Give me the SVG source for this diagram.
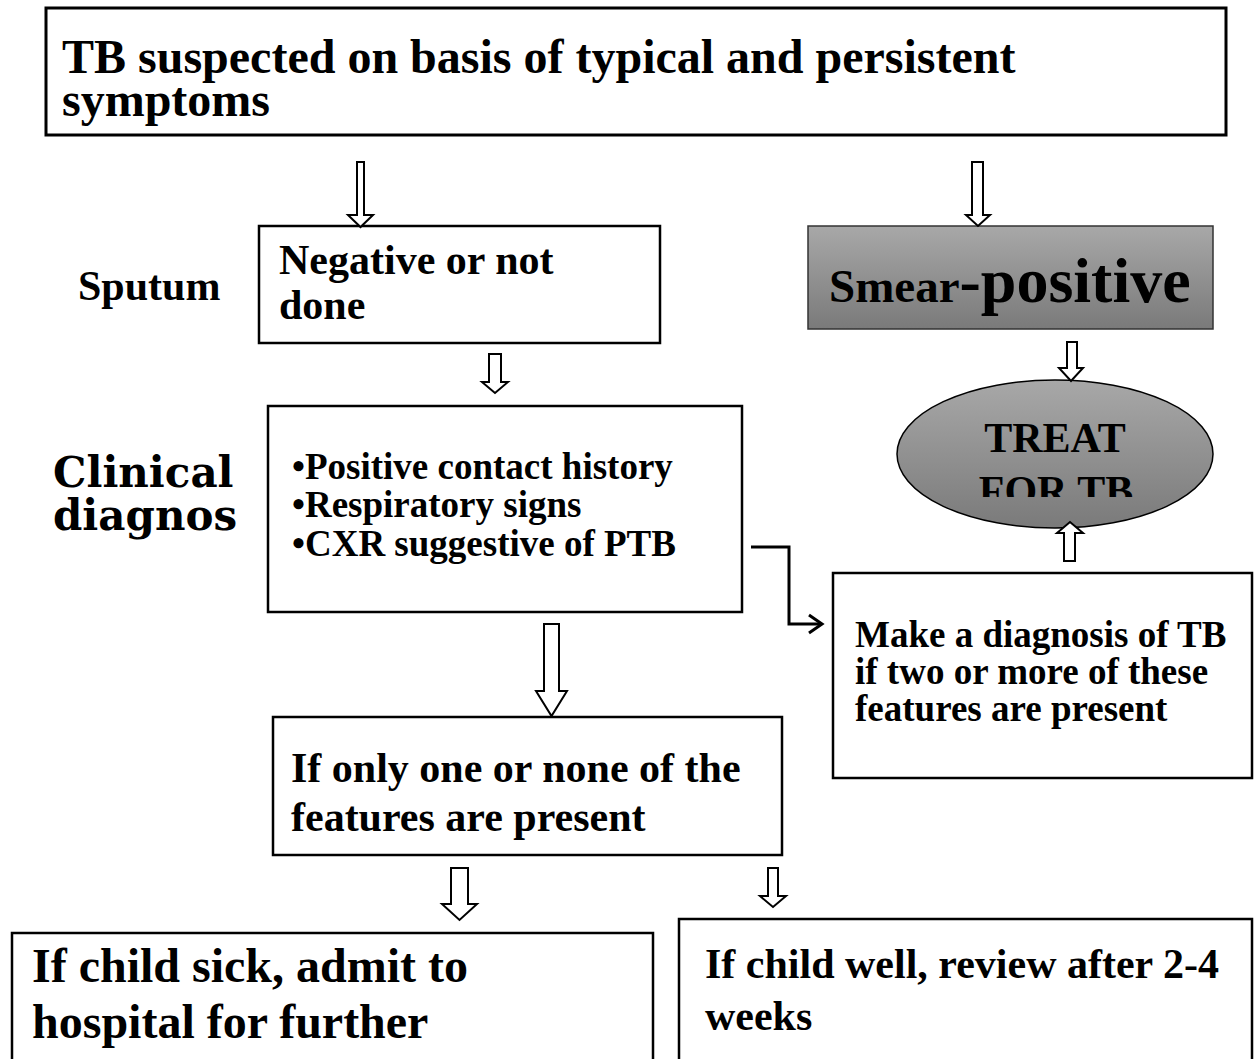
<svg xmlns="http://www.w3.org/2000/svg" width="1256" height="1059" viewBox="0 0 1256 1059">
<style>
.box{fill:#fff;stroke:#000;stroke-width:2.5}
.t{font-family:"Liberation Serif","Times New Roman",serif;font-weight:bold;fill:#000}
.blk{fill:#fff;stroke:#000;stroke-width:2;stroke-linejoin:miter}
.ln{fill:none;stroke:#000;stroke-width:3}
</style>
<defs>
<linearGradient id="g1" x1="0" y1="0" x2="0" y2="1">
<stop offset="0" stop-color="#a8a8a8"/>
<stop offset="1" stop-color="#7a7a7a"/>
</linearGradient>
<clipPath id="clipTreat"><rect x="890" y="380" width="330" height="117"/></clipPath>
</defs>

<g id="top">
<rect class="box" x="46" y="8" width="1180" height="127" style="stroke-width:3"/>
<text class="t" x="62" y="73" font-size="48">TB suspected on basis of typical and persistent</text>
<text class="t" x="62" y="116" font-size="48">symptoms</text>
</g>

<g id="sputum-label">
<text class="t" x="78" y="300" font-size="42">Sputum</text>
</g>

<g id="negative">
<rect class="box" x="259" y="226" width="401" height="117"/>
<text class="t" x="279" y="274" font-size="42">Negative or not</text>
<text class="t" x="279" y="319" font-size="42">done</text>
</g>

<g id="smear">
<rect x="808" y="226" width="405" height="103" fill="url(#g1)" stroke="#333" stroke-width="1.5"/>
<text class="t" x="829" y="302"><tspan font-size="47">Smear</tspan><tspan font-size="64">-positive</tspan></text>
</g>

<g id="treat">
<ellipse cx="1055" cy="454" rx="158" ry="74" fill="url(#g1)" stroke="#000" stroke-width="1.5"/>
<g clip-path="url(#clipTreat)">
<text class="t" x="1055" y="452" font-size="42" text-anchor="middle">TREAT</text>
<text class="t" x="1056" y="505" font-size="42" text-anchor="middle">FOR TB</text>
</g>
</g>

<g id="clinical-label">
<text x="53" y="487" font-size="42" font-family="'DejaVu Serif',serif" font-weight="bold">Clinical</text>
<text x="53" y="530" font-size="42" font-family="'DejaVu Serif',serif" font-weight="bold">diagnos</text>
</g>

<g id="features">
<rect class="box" x="268" y="406" width="474" height="206"/>
<text class="t" x="292" y="479" font-size="37">•Positive contact history</text>
<text class="t" x="292" y="517" font-size="37">•Respiratory signs</text>
<text class="t" x="292" y="556" font-size="37">•CXR suggestive of PTB</text>
</g>

<g id="make-diagnosis">
<rect class="box" x="833" y="573" width="419" height="205"/>
<text class="t" x="855" y="647" font-size="37">Make a diagnosis of TB</text>
<text class="t" x="855" y="684" font-size="37">if two or more of these</text>
<text class="t" x="855" y="721" font-size="37">features are present</text>
</g>

<g id="if-only">
<rect class="box" x="273" y="717" width="509" height="138"/>
<text class="t" x="291" y="782" font-size="42">If only one or none of the</text>
<text class="t" x="291" y="831" font-size="42">features are present</text>
</g>

<g id="sick">
<rect class="box" x="12" y="933" width="641" height="140"/>
<text class="t" x="32" y="982" font-size="48">If child sick, admit to</text>
<text class="t" x="32" y="1038" font-size="48">hospital for further</text>
</g>

<g id="well">
<rect class="box" x="679" y="919" width="573" height="150"/>
<text class="t" x="705" y="978" font-size="42">If child well, review after 2-4</text>
<text class="t" x="705" y="1030" font-size="42">weeks</text>
</g>

<g id="connectors">
<path class="blk" d="M357 162 H364 V215 H373 L360.5 227 L348 215 H357 Z"/>
<path class="blk" d="M972 162 H983 V215 H990 L978 226 L966 215 H972 Z"/>
<path class="blk" d="M489 354 H501 V382 H508 L495 393 L482 382 H489 Z"/>
<path class="blk" d="M1067 342 H1077 V368 H1083 L1071 381 L1059 368 H1067 Z"/>
<path class="blk" d="M1064 561 H1075 V533 H1083 L1070 522 L1057 533 H1064 Z"/>
<path class="blk" d="M544 624 H559 V691 H567 L551.5 716 L536 691 H544 Z"/>
<path class="blk" d="M451 868 H468 V904 H477 L459.5 920 L442 904 H451 Z"/>
<path class="blk" d="M768 868 H778 V896 H786 L773 907 L760 896 H768 Z"/>
<polyline class="ln" points="751,547 789,547 789,624 821,624"/>
<polyline class="ln" points="809,615 822,624 809,633" stroke-linejoin="miter"/>
</g>
</svg>
